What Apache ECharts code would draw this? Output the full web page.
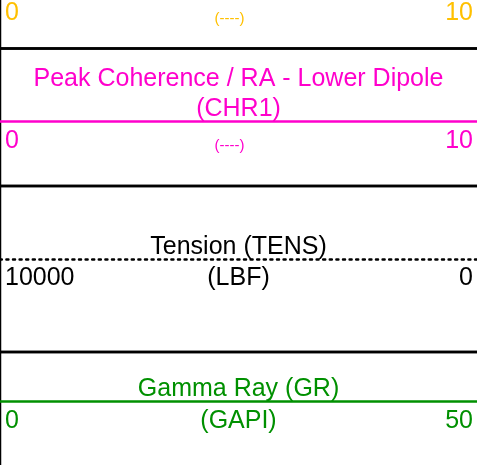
<!DOCTYPE html>
<html>
<head>
<meta charset="utf-8">
<script src="https://cdn.jsdelivr.net/npm/echarts@6/dist/echarts.min.js"></script>
<style>
  html, body { margin: 0; padding: 0; background: #fff; }
  #chart { width: 477px; height: 465px; }
</style>
</head>
<body>
<div id="chart"></div>
<script>
// track header data (top track is cut off above the picture)
const trackTitles = ['', 'Peak Coherence / RA - Lower Dipole\n(CHR1)', 'Tension (TENS)', 'Gamma Ray (GR)']
const trackUnits = ['(----)', '(----)', '(LBF)', '(GAPI)']
const scaleLeft = [0, 0, 10000, 0]
const scaleRight = [10, 10, 0, 50]

const trackColors = ['#FFC000', '#FF00CC', '#000000', '#009000']
const lineTypes = ['solid', 'solid', [2, 4.6], 'solid']
const lineY = [-6, 121.5, 259, 401.5]
const panelTop = [-80, 48.5, 186, 352]
const panelBottom = [48.5, 186, 352, 600]

const font = 'Liberation Sans, Arial, sans-serif'
const fs = 25
const chart = echarts.init(document.getElementById('chart'))

const grid = []
const xAxis = []
const yAxis = []

// panel boxes, right edge pushed out of view
panelTop.forEach((t, i) => {
  grid.push({
    left: 0, width: 520, top: t, height: panelBottom[i] - t,
    outerBoundsMode: 'none',
    show: true, borderColor: '#000', borderWidth: 2.5, backgroundColor: 'transparent',
  })
  xAxis.push({ gridIndex: grid.length - 1, type: 'value', show: false })
  yAxis.push({ gridIndex: grid.length - 1, type: 'value', show: false })
})

// track scales
trackTitles.forEach((title, i) => {
  const lo = Math.min(scaleLeft[i], scaleRight[i])
  const hi = Math.max(scaleLeft[i], scaleRight[i])
  const inverse = scaleLeft[i] > scaleRight[i]
  const mid = (lo + hi) / 2
  const small = trackUnits[i] === '(----)'
  grid.push({ left: 0, right: 0, top: lineY[i] - 1, height: 1, outerBoundsMode: 'none' })
  const gi = grid.length - 1
  xAxis.push({
    gridIndex: gi,
    type: 'value',
    position: 'bottom',
    min: lo,
    max: hi,
    interval: (hi - lo) / 2,
    inverse: inverse,
    name: title,
    nameLocation: 'middle',
    nameGap: 3,
    nameMoveOverlap: false,
    nameTextStyle: {
      color: trackColors[i], fontSize: fs, fontFamily: font,
      verticalAlign: 'bottom', lineHeight: 30,
    },
    axisLine: { show: true, lineStyle: { color: trackColors[i], width: 2.5, type: lineTypes[i] } },
    axisTick: { show: false },
    splitLine: { show: false },
    axisLabel: {
      margin: 7,
      showMinLabel: true,
      showMaxLabel: true,
      alignMinLabel: inverse ? 'right' : 'left',
      alignMaxLabel: inverse ? 'left' : 'right',
      formatter: (v) => {
        if (v === mid) return small ? '{us|' + trackUnits[i] + '}' : '{u|' + trackUnits[i] + '}'
        return v === scaleLeft[i] ? '{nl|' + v + '}' : '{nr|' + v + '}'
      },
      rich: {
        nl: { fontSize: fs, fontFamily: font, color: trackColors[i], padding: [0, 0, 0, 5] },
        nr: { fontSize: fs, fontFamily: font, color: trackColors[i], padding: [0, 4, 0, 0] },
        u: { fontSize: fs, fontFamily: font, color: trackColors[i] },
        us: { fontSize: 15, fontFamily: font, color: trackColors[i], padding: [10, 18, 0, 0] },
      },
    },
  })
  yAxis.push({ gridIndex: gi, type: 'value', show: false })
})

chart.setOption({
  animation: false,
  grid: grid,
  xAxis: xAxis,
  yAxis: yAxis,
  series: [],
})
</script>
</body>
</html>
